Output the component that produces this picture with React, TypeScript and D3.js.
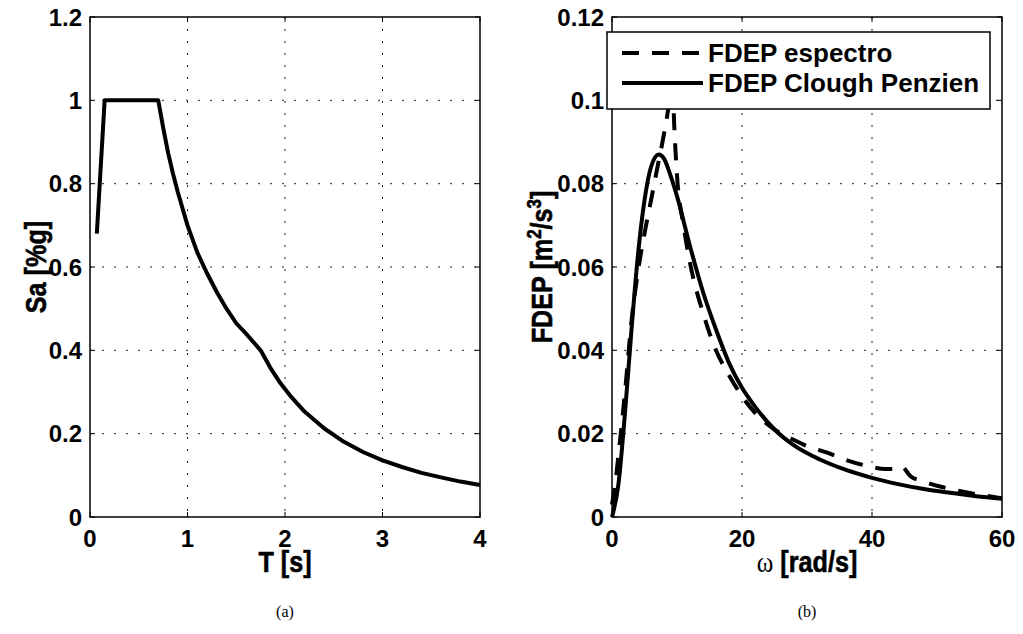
import React, { useEffect, useRef } from "react";
import * as d3 from "d3";

// (a) design spectrum
const T_VALUES = [0.07, 0.15, 0.7, 0.75, 0.8, 0.85, 0.9, 1.0, 1.1, 1.2, 1.3, 1.4, 1.5, 1.6, 1.75, 1.85, 1.95, 2.05, 2.2, 2.4, 2.6, 2.8, 3.0, 3.2, 3.4, 3.6, 3.8, 4.0];
const SA_VALUES = [0.68, 1.0, 1.0, 0.935, 0.875, 0.825, 0.78, 0.7, 0.635, 0.585, 0.54, 0.5, 0.465, 0.44, 0.4, 0.358, 0.322, 0.292, 0.253, 0.213, 0.181, 0.156, 0.136, 0.12, 0.106, 0.095, 0.085, 0.077];

// (b) power spectral density
const OMEGA_ESP = [0, 0.5, 1, 2, 3, 4, 5, 6, 7, 8, 8.8, 9.2, 9.6, 10, 11, 12, 14, 16, 18, 20, 22, 25, 28, 30, 33, 36, 40, 42, 43.5, 44.5, 46, 48, 50, 53, 56, 60];
const FDEP_ESP = [0.003, 0.008, 0.015, 0.03, 0.047, 0.059, 0.068, 0.076, 0.084, 0.092, 0.1, 0.107, 0.093, 0.082, 0.07, 0.061, 0.049, 0.04, 0.034, 0.029, 0.025, 0.021, 0.0185, 0.017, 0.0155, 0.0137, 0.012, 0.0115, 0.0115, 0.0121, 0.0097, 0.0085, 0.0075, 0.0064, 0.0055, 0.0045];
const OMEGA_CP = [0, 1, 2, 3, 4, 5, 6, 7.2, 8, 9, 10, 12, 14, 16, 18, 20, 22, 25, 28, 32, 36, 40, 44, 48, 52, 56, 60];
const FDEP_CP = [0, 0.008, 0.025, 0.045, 0.063, 0.076, 0.084, 0.087, 0.086, 0.082, 0.077, 0.065, 0.054, 0.045, 0.037, 0.031, 0.0265, 0.021, 0.0172, 0.0138, 0.0113, 0.0094, 0.0079, 0.0067, 0.0058, 0.005, 0.0044];

const SA_X_TICKS = [0, 1, 2, 3, 4];
const SA_Y_TICKS = [0, 0.2, 0.4, 0.6, 0.8, 1, 1.2];
const FDEP_X_TICKS = [0, 20, 40, 60];
const FDEP_Y_TICKS = [0, 0.02, 0.04, 0.06, 0.08, 0.1, 0.12];

const LEGEND_LABELS = ["FDEP espectro", "FDEP Clough Penzien"];

const W = 1023;
const H = 634;
const TICK_FONT = "'Liberation Sans', Arial, sans-serif";
const DASH = "17,13";

const drawPanel = (svg, box, xDomain, yDomain, xTicks, yTicks, series) => {
  const x = d3.scaleLinear().domain(xDomain).range([box.x0, box.x1]);
  const y = d3.scaleLinear().domain(yDomain).range([box.y1, box.y0]);
  const g = svg.append("g");

  // dotted grid
  g.selectAll(".gx")
    .data(xTicks.slice(1, -1))
    .enter()
    .append("line")
    .attr("x1", (d) => x(d))
    .attr("x2", (d) => x(d))
    .attr("y1", box.y0)
    .attr("y2", box.y1)
    .attr("stroke", "#222")
    .attr("stroke-width", 1)
    .attr("stroke-dasharray", "2,10");
  g.selectAll(".gy")
    .data(yTicks.slice(1, -1))
    .enter()
    .append("line")
    .attr("x1", box.x0)
    .attr("x2", box.x1)
    .attr("y1", (d) => y(d))
    .attr("y2", (d) => y(d))
    .attr("stroke", "#222")
    .attr("stroke-width", 1)
    .attr("stroke-dasharray", "2,10");

  // curves
  series.forEach((s) => {
    const pts = s.xs.map((v, i) => [v, s.ys[i]]);
    const line = d3
      .line()
      .x((d) => x(d[0]))
      .y((d) => y(d[1]))
      .curve(s.curve);
    g.append("path")
      .datum(pts)
      .attr("d", line)
      .attr("fill", "none")
      .attr("stroke", "#000")
      .attr("stroke-width", 4)
      .attr("stroke-linejoin", "round")
      .attr("stroke-dasharray", s.dash || null);
  });

  // box + inward ticks on all sides
  g.append("rect")
    .attr("x", box.x0)
    .attr("y", box.y0)
    .attr("width", box.x1 - box.x0)
    .attr("height", box.y1 - box.y0)
    .attr("fill", "none")
    .attr("stroke", "#000")
    .attr("stroke-width", 1.5);
  const tl = 5;
  xTicks.forEach((t) => {
    g.append("line").attr("x1", x(t)).attr("x2", x(t)).attr("y1", box.y1).attr("y2", box.y1 - tl).attr("stroke", "#000");
    g.append("line").attr("x1", x(t)).attr("x2", x(t)).attr("y1", box.y0).attr("y2", box.y0 + tl).attr("stroke", "#000");
  });
  yTicks.forEach((t) => {
    g.append("line").attr("x1", box.x0).attr("x2", box.x0 + tl).attr("y1", y(t)).attr("y2", y(t)).attr("stroke", "#000");
    g.append("line").attr("x1", box.x1).attr("x2", box.x1 - tl).attr("y1", y(t)).attr("y2", y(t)).attr("stroke", "#000");
  });

  // tick labels
  const fmt = d3.format("~g");
  g.selectAll(".xl")
    .data(xTicks)
    .enter()
    .append("text")
    .attr("x", (d) => x(d))
    .attr("y", box.y1 + 30)
    .attr("text-anchor", "middle")
    .style("font-family", TICK_FONT)
    .style("font-weight", "bold")
    .style("font-size", "24px")
    .text((d) => fmt(d));
  g.selectAll(".yl")
    .data(yTicks)
    .enter()
    .append("text")
    .attr("x", box.x0 - 8)
    .attr("y", (d) => y(d))
    .attr("dy", "0.36em")
    .attr("text-anchor", "end")
    .style("font-family", TICK_FONT)
    .style("font-weight", "bold")
    .style("font-size", "24px")
    .text((d) => fmt(d));

  return { x, y, g };
};

const App = () => {
  const svgRef = useRef(null);

  useEffect(() => {
    const svg = d3.select(svgRef.current);
    svg.selectAll("*").remove();

    const left = { x0: 90, x1: 480, y0: 17, y1: 517 };
    const right = { x0: 612, x1: 1002, y0: 17, y1: 517 };

    drawPanel(svg, left, [0, 4], [0, 1.2], SA_X_TICKS, SA_Y_TICKS, [
      { xs: T_VALUES, ys: SA_VALUES, curve: d3.curveLinear },
    ]);
    drawPanel(svg, right, [0, 60], [0, 0.12], FDEP_X_TICKS, FDEP_Y_TICKS, [
      { xs: OMEGA_ESP, ys: FDEP_ESP, curve: d3.curveMonotoneX, dash: DASH },
      { xs: OMEGA_CP, ys: FDEP_CP, curve: d3.curveMonotoneX },
    ]);

    // axis labels: heavy narrow bold, squeezed along the reading direction
    const label = (x, y, rot) =>
      svg
        .append("text")
        .attr("transform", `translate(${x},${y}) rotate(${rot}) scale(0.84,1)`)
        .attr("text-anchor", "middle")
        .attr("stroke", "#000")
        .attr("stroke-width", 0.6)
        .style("font-family", TICK_FONT)
        .style("font-weight", "bold")
        .style("font-size", "30px");

    label((left.x0 + left.x1) / 2, 572, 0).text("T [s]");
    const om = label((right.x0 + right.x1) / 2, 572, 0);
    om.append("tspan")
      .attr("stroke-width", 0)
      .style("font-family", "'Liberation Serif', serif")
      .style("font-weight", "normal")
      .text("ω");
    om.append("tspan").text(" [rad/s]");

    label(46, (left.y0 + left.y1) / 2, -90).text("Sa [%g]");
    const fl = label(552, (right.y0 + right.y1) / 2, -90);
    fl.append("tspan").text("FDEP [m");
    fl.append("tspan").attr("baseline-shift", "super").style("font-size", "20px").text("2");
    fl.append("tspan").text("/s");
    fl.append("tspan").attr("baseline-shift", "super").style("font-size", "20px").text("3");
    fl.append("tspan").text("]");

    // captions
    [["(a)", left], ["(b)", right]].forEach(([t, b]) => {
      svg
        .append("text")
        .attr("x", (b.x0 + b.x1) / 2)
        .attr("y", 617)
        .attr("text-anchor", "middle")
        .style("font-family", "'Liberation Serif', 'Times New Roman', serif")
        .style("font-size", "16px")
        .text(t);
    });

    // legend
    const lg = svg.append("g").attr("transform", "translate(607,32)");
    lg.append("rect")
      .attr("width", 383)
      .attr("height", 77)
      .attr("fill", "#fff")
      .attr("stroke", "#000")
      .attr("stroke-width", 1.5);
    LEGEND_LABELS.forEach((name, i) => {
      const cy = 21 + i * 30;
      lg.append("line")
        .attr("x1", 15)
        .attr("x2", 96)
        .attr("y1", cy)
        .attr("y2", cy)
        .attr("stroke", "#000")
        .attr("stroke-width", 4)
        .attr("stroke-dasharray", i === 0 ? DASH : null);
      lg.append("text")
        .attr("x", 101)
        .attr("y", cy)
        .attr("dy", "0.36em")
        .style("font-family", TICK_FONT)
        .style("font-weight", "bold")
        .style("font-size", "26px")
        .text(name);
    });
  }, []);

  return (
    <div style={{ position: "fixed", left: 0, top: 0, width: W, height: H, background: "#fff" }}>
      <svg ref={svgRef} width={W} height={H} style={{ display: "block" }} />
    </div>
  );
};

export default App;
